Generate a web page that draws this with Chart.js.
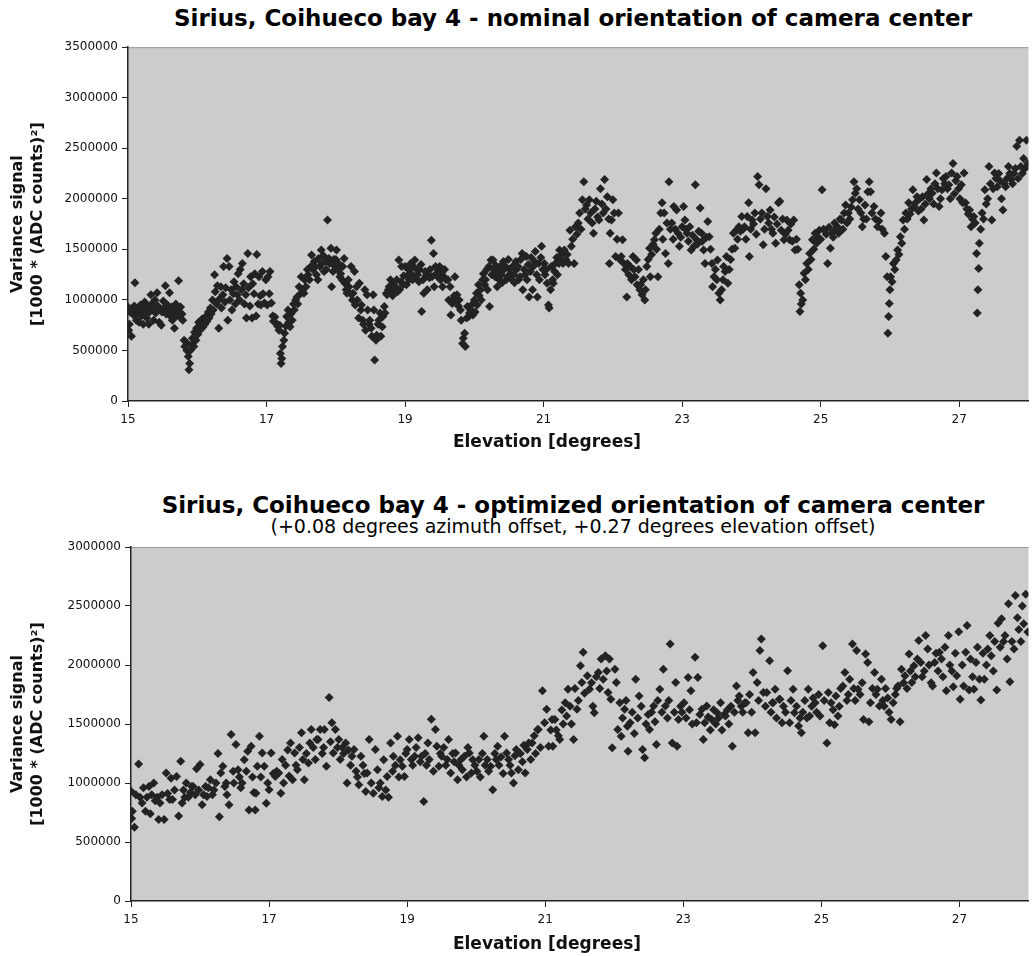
<!DOCTYPE html>
<html>
<head>
<meta charset="utf-8">
<script src="https://cdn.jsdelivr.net/npm/chart.js@4.4.1/dist/chart.umd.min.js"></script>
<style>
  body { margin: 0; background: #fff; font-family: "DejaVu Sans", sans-serif; }
  #page { position: relative; width: 1033px; height: 956px; overflow: hidden; background: #fff; }
  .title { position: absolute; left: 0; width: 1146px; text-align: center; white-space: nowrap; color: #000; }
  .main { font-weight: bold; font-size: 23px; line-height: 28px; }
  .sub { font-size: 19px; line-height: 22px; }
  .xtitle { position: absolute; left: 0; width: 1094px; text-align: center; white-space: nowrap;
            color: #111; font-weight: bold; font-size: 17px; line-height: 20px; }
  canvas { position: absolute; left: 0; }
</style>
</head>
<body>
<div id="page">
  <div class="title main" style="top:4px">Sirius, Coihueco bay 4 - nominal orientation of camera center</div>
  <canvas id="nominal" width="1033" height="424" style="top:36px"></canvas>
  <div class="xtitle" style="top:431px">Elevation [degrees]</div>
  <div class="title main" style="top:491px">Sirius, Coihueco bay 4 - optimized orientation of camera center</div>
  <div class="title sub" style="top:515px">(+0.08 degrees azimuth offset, +0.27 degrees elevation offset)</div>
  <canvas id="optimized" width="1033" height="426" style="top:530px"></canvas>
  <div class="xtitle" style="top:933px">Elevation [degrees]</div>
</div>
<script>
// elevation tick labels, shared by both charts
const xTicks = [15, 17, 19, 21, 23, 25, 27];
const yUnit = 1000; // variance values below are written in thousands

// [elevation, variance / 1000] - nominal orientation
const nominalPoints = [
  [15.00,930],[15.01,700],[15.02,760],[15.03,880],[15.05,640],[15.06,910],[15.08,850],[15.09,940],[15.10,1170],[15.12,800],
  [15.13,900],[15.15,870],[15.16,780],[15.18,950],[15.19,840],[15.21,900],[15.22,760],[15.24,980],[15.25,860],[15.27,820],
  [15.28,930],[15.30,760],[15.31,880],[15.33,1050],[15.34,960],[15.36,900],[15.37,800],[15.39,1000],[15.40,870],[15.42,1070],
  [15.43,940],[15.45,780],[15.46,910],[15.48,750],[15.49,880],[15.51,990],[15.52,920],[15.54,1140],[15.55,860],[15.57,950],
  [15.58,900],[15.60,1070],[15.61,840],[15.63,930],[15.64,800],[15.66,880],[15.67,720],[15.69,960],[15.70,840],[15.72,900],
  [15.73,1190],[15.75,830],[15.76,930],[15.78,860],[15.79,800],
  [15.81,600],[15.82,540],[15.84,580],[15.85,500],[15.87,440],[15.88,310],[15.89,370],[15.90,500],[15.92,560],[15.93,620],
  [15.95,540],[15.96,680],[15.98,600],[15.99,720],[16.01,660],[16.02,780],[16.04,700],[16.05,760],[16.07,810],[16.08,730],
  [16.10,800],[16.11,760],[16.13,840],[16.14,790],[16.16,880],[16.17,820],[16.19,920],[16.20,860],
  [16.22,1000],[16.23,900],[16.25,1250],[16.26,1080],[16.28,960],[16.29,1140],[16.31,720],[16.32,1010],[16.34,1130],[16.35,920],
  [16.37,1050],[16.38,1330],[16.40,980],[16.41,1120],[16.43,1410],[16.44,800],[16.46,1330],[16.47,1000],[16.49,1100],[16.50,900],
  [16.52,1060],[16.53,1180],[16.55,960],[16.56,1130],[16.58,1050],[16.59,1260],[16.61,1000],[16.62,1300],[16.64,1100],[16.65,1360],
  [16.67,1160],[16.68,960],[16.70,1050],[16.71,820],[16.73,1460],[16.74,1120],[16.76,940],[16.77,1230],[16.79,820],[16.80,1160],
  [16.82,1060],[16.83,1260],[16.85,840],[16.86,1450],[16.88,960],[16.89,1230],[16.91,1040],[16.92,950],[16.94,1280],[16.95,1060],
  [16.97,970],[16.99,1200],[17.01,950],[17.02,1230],[17.04,1060],[17.05,1280],[17.07,970],[17.09,840],[17.10,790],[17.12,830],
  [17.14,770],[17.16,740],[17.18,700],[17.19,750],
  [17.20,470],[17.21,370],[17.22,420],[17.23,540],[17.25,600],[17.26,670],[17.28,740],[17.29,835],[17.31,900],[17.32,780],
  [17.34,735],[17.35,860],[17.37,800],[17.39,960],[17.40,900],[17.42,1000],[17.44,1030],[17.45,960],[17.47,1130],[17.49,1060],
  [17.50,1230],[17.52,1100],[17.54,1065],[17.55,1200],[17.57,1130],[17.59,1300],[17.60,1250],[17.62,1200],[17.64,1330],[17.65,1445],
  [17.67,1300],[17.69,1380],[17.70,1330],[17.72,1250],[17.74,1200],[17.75,1410],[17.77,1330],[17.79,1495],[17.80,1360],[17.82,1440],
  [17.83,1280],[17.85,1380],[17.86,1300],[17.88,1790],[17.90,1410],[17.91,1360],[17.93,1510],[17.94,1130],[17.96,1280],[17.97,1400],
  [17.99,1330],
  [18.00,1400],[18.01,1495],[18.03,1300],[18.04,1360],[18.06,1230],[18.07,1260],[18.09,1200],[18.10,1330],[18.12,1410],[18.13,1165],
  [18.15,1100],[18.16,1065],[18.18,1200],[18.19,1130],[18.21,1060],[18.22,1330],[18.24,1000],[18.25,1065],[18.27,1280],[18.28,950],
  [18.30,1130],[18.31,1000],[18.33,820],[18.34,1165],[18.36,900],[18.37,950],[18.39,800],[18.40,760],[18.42,1100],[18.43,700],
  [18.45,1050],[18.46,900],[18.48,760],[18.49,800],[18.51,720],[18.52,640],[18.54,1050],[18.55,900],[18.56,405],[18.58,600],
  [18.59,650],[18.61,760],[18.62,800],[18.64,870],[18.65,640],[18.67,735],[18.68,835],[18.70,935],[18.71,870],[18.73,1065],
  [18.74,1050],[18.76,1100],[18.77,1130],[18.79,1200],[18.80,1080],[18.82,1040],[18.83,1150],[18.85,1100],[18.86,1130],[18.88,1200],
  [18.89,1080],[18.91,1395],[18.92,1100],[18.94,1180],[18.95,1330],[18.97,1150],[18.98,1240],
  [19.00,1330],[19.02,1150],[19.03,1240],[19.05,1300],[19.06,1200],[19.08,1360],[19.09,1260],[19.11,1200],[19.12,1330],[19.14,1395],
  [19.15,1230],[19.17,1300],[19.18,1250],[19.20,1180],[19.21,1300],[19.23,1350],[19.24,885],[19.26,1200],[19.27,1065],[19.29,1280],
  [19.30,1240],[19.32,1100],[19.33,1260],[19.35,1220],[19.36,1300],[19.38,1590],[19.39,1230],[19.41,1460],[19.42,1130],[19.44,1330],
  [19.45,1260],[19.47,1230],[19.48,1290],[19.50,1330],[19.51,1200],[19.53,1270],[19.54,1130],[19.56,1230],[19.57,1300],[19.59,1200],
  [19.62,1200],[19.63,1000],[19.65,1130],[19.66,850],[19.68,965],[19.69,1000],[19.71,1040],[19.72,1230],[19.74,1000],[19.75,1050],
  [19.77,940],[19.78,1000],[19.80,900],[19.81,800],[19.83,570],[19.84,620],[19.86,670],[19.87,540],[19.89,820],[19.90,935],
  [19.92,835],[19.93,870],[19.95,900],[19.96,950],[19.98,850],
  [20.00,1000],[20.01,880],[20.03,1065],[20.04,950],[20.06,1150],[20.07,1040],[20.09,1100],[20.10,1000],[20.12,1200],[20.13,1260],
  [20.15,1150],[20.16,1200],[20.18,1300],[20.19,1100],[20.21,1330],[20.22,935],[20.24,1395],[20.25,1250],[20.27,1395],[20.28,1300],
  [20.30,1230],[20.31,1340],[20.33,1130],[20.34,1280],[20.36,1200],[20.37,1330],[20.39,1250],[20.40,1170],[20.42,1380],[20.43,1300],
  [20.45,1330],[20.46,1200],[20.48,1230],[20.49,1400],[20.51,1300],[20.52,1260],[20.54,1200],[20.55,1330],[20.57,1250],[20.58,1170],
  [20.60,1380],[20.61,1300],[20.63,1330],[20.64,1200],[20.66,1230],[20.67,1400],[20.69,1460],[20.70,1100],[20.72,1300],[20.73,1250],
  [20.75,1430],[20.76,1200],[20.78,1350],[20.79,1030],[20.81,1280],[20.82,1420],[20.84,1100],[20.85,1330],[20.87,1380],[20.88,1480],
  [20.90,1250],[20.91,1030],[20.93,1360],[20.94,1200],[20.96,1420],[20.97,1530],[20.99,1300],
  [21.01,1360],[21.02,1250],[21.04,1300],[21.05,1165],[21.07,950],[21.08,920],[21.10,1100],[21.11,1330],[21.13,1200],[21.14,1165],
  [21.16,1280],[21.17,1360],[21.19,1420],[21.20,1250],[21.22,1360],[21.23,1495],[21.25,1400],[21.26,1450],[21.28,1360],
  [21.30,1495],[21.32,1400],[21.34,1450],[21.36,1360],[21.38,1690],[21.40,1530],[21.42,1600],[21.44,1360],[21.46,1725],[21.48,1650],
  [21.50,1760],[21.52,1860],[21.54,1700],[21.56,1990],[21.58,2170],[21.60,1900],[21.62,1940],[21.64,1800],[21.66,1990],[21.68,1860],
  [21.70,1760],[21.72,1660],[21.74,1900],[21.76,1975],[21.78,1820],[21.80,1790],[21.82,2100],[21.84,1950],[21.86,1860],[21.88,2190],
  [21.90,1900],[21.92,2020],[21.94,1800],[21.95,1360],[21.96,1660],[21.98,1790],[22.00,1990],[22.02,1860],[22.04,1430],[22.06,1600],
  [22.08,1860],[22.10,1400],[22.12,1430],[22.14,1595],[22.16,1360],[22.18,1300],
  [22.20,1030],[22.21,1360],[22.23,1250],[22.25,1330],[22.27,1200],[22.29,1430],[22.30,1300],[22.32,1230],[22.34,1395],[22.35,1150],
  [22.37,1300],[22.39,1100],[22.40,1150],[22.42,1050],[22.44,1200],[22.46,1000],[22.47,1100],[22.49,1330],[22.51,1400],[22.53,1510],
  [22.54,1230],[22.56,1450],[22.58,1550],[22.60,1595],[22.62,1660],[22.63,1500],[22.65,1230],[22.67,1700],[22.69,1860],[22.71,1960],
  [22.72,1600],[22.74,1860],[22.76,1460],[22.78,1760],[22.80,1360],[22.81,2170],[22.83,1700],[22.85,1760],[22.87,1600],[22.88,1925],
  [22.90,1700],[22.92,1890],[22.94,1660],[22.96,1530],[22.98,1620],[23.00,1725],
  [23.02,1925],[23.04,1790],[23.05,1700],[23.07,1660],[23.09,1580],[23.11,1725],[23.13,1495],[23.15,1640],[23.17,1530],[23.19,2140],
  [23.21,1595],[23.22,1550],[23.24,1680],[23.26,1910],[23.28,1660],[23.29,1580],[23.31,1495],[23.33,1360],[23.35,1620],[23.37,1775],
  [23.39,1625],[23.41,1500],[23.43,1360],[23.44,1130],[23.46,1230],[23.48,1300],[23.50,1200],[23.51,1395],[23.53,1065],[23.55,1000],
  [23.57,1100],[23.59,1200],[23.60,1330],[23.62,1280],[23.64,1430],[23.66,1165],[23.68,1300],[23.70,1400],[23.72,1500],[23.74,1660],
  [23.76,1510],[23.78,1690],[23.80,1600],[23.82,1725],[23.84,1680],[23.86,1825],[23.88,1700],
  [23.90,1725],[23.92,1600],[23.94,1825],[23.96,1960],[23.97,1430],[23.99,1700],[24.01,1790],[24.03,1750],[24.05,1860],[24.07,1650],
  [24.09,2220],[24.11,2140],[24.13,1800],[24.15,1860],[24.17,1545],[24.19,1700],[24.21,2100],[24.23,1825],[24.25,1760],[24.27,1890],
  [24.29,1700],[24.31,1660],[24.33,1820],[24.35,1560],[24.37,1750],[24.39,1960],[24.41,1975],[24.43,1690],[24.45,1800],[24.47,1595],
  [24.49,1650],[24.51,1790],[24.53,1690],[24.55,1595],[24.57,1750],[24.59,1580],[24.61,1790],[24.63,1495],[24.65,1600],[24.67,1500],
  [24.69,1150],[24.70,885],[24.71,1065],[24.72,960],[24.74,1000],[24.76,1265],[24.78,1200],[24.80,1360],[24.82,1300],[24.84,1460],
  [24.86,1400],[24.88,1595],[24.90,1500],[24.92,1660],[24.94,1560],[24.96,1620],[24.98,1690],
  [25.00,1600],[25.02,2090],[25.04,1700],[25.06,1690],[25.08,1650],[25.10,1360],[25.12,1720],[25.14,1510],[25.16,1660],[25.18,1620],
  [25.20,1760],[25.22,1700],[25.24,1725],[25.26,1660],[25.28,1800],[25.30,1790],[25.32,1700],[25.34,1860],[25.36,1940],[25.38,1760],
  [25.40,1860],[25.42,1800],[25.44,1920],[25.46,1990],[25.48,2170],[25.50,2055],[25.52,2100],[25.54,1900],[25.56,1990],[25.58,1860],
  [25.60,1725],[25.62,1800],[25.64,1940],[25.66,1800],[25.68,2070],
  [25.70,2170],[25.72,2070],[25.74,1860],[25.77,1925],[25.79,1800],[25.82,1725],[25.84,1780],[25.87,1860],[25.89,1700],[25.92,1660],
  [25.94,1430],[25.96,1230],[25.97,670],[25.98,835],[25.99,965],[26.00,1100],[26.01,1230],[26.03,1180],[26.05,1360],[26.07,1300],
  [26.09,1395],[26.11,1495],[26.13,1450],[26.15,1625],[26.17,1560],[26.19,1790],[26.21,1700],[26.23,1860],[26.25,1800],[26.27,1960],
  [26.29,1850],[26.31,1900],[26.33,2090],[26.35,1925],[26.37,1960],[26.39,2020],[26.41,1880],[26.43,2000],[26.45,1900],[26.47,2020],
  [26.49,1790],[26.51,1950],[26.53,2190],[26.55,2050],[26.57,2000],[26.59,2100],[26.61,2055],[26.63,1950],[26.65,2150],[26.67,2255],
  [26.69,2100],[26.71,1925],[26.73,2000],[26.75,2090],[26.77,2200],[26.79,2150],[26.81,2220],[26.83,2100],[26.85,2140],[26.87,2000],
  [26.89,2255],[26.91,2350],[26.93,2050],[26.95,2180],
  [26.97,2220],[26.99,2100],[27.01,2000],[27.03,2140],[27.05,1960],[27.07,2255],[27.09,1960],[27.11,1900],[27.13,1850],[27.15,1890],
  [27.17,1725],[27.19,1800],[27.21,1825],[27.23,1760],[27.25,1460],[27.26,870],[27.27,1100],[27.28,1310],[27.29,1560],[27.31,1700],
  [27.33,1860],[27.35,1800],[27.37,2090],[27.39,1950],[27.41,2000],[27.43,2320],[27.45,2150],[27.47,1790],[27.49,2100],[27.51,2255],
  [27.53,2200],[27.55,2120],[27.57,2250],[27.59,2180],[27.61,2000],[27.63,1890],[27.65,2150],[27.67,2120],[27.69,2200],[27.71,2320],
  [27.73,2250],[27.75,2190],[27.77,2150],[27.79,2250],[27.81,2300],[27.83,2520],[27.85,2200],[27.87,2580],[27.89,2320],[27.91,2250],
  [27.93,2400],[27.95,2300],[27.97,2580],[27.99,2350]
];

// [elevation, variance / 1000] - optimized orientation
const optimizedPoints = [
  [15.00,930],[15.01,700],[15.02,760],[15.05,625],[15.07,900],[15.11,1160],[15.13,880],[15.16,830],[15.18,960],
  [15.21,760],[15.23,880],[15.26,970],[15.28,740],[15.30,900],[15.33,1000],[15.35,850],[15.38,880],
  [15.40,690],[15.42,830],[15.45,900],[15.48,690],[15.51,1085],[15.53,910],[15.56,860],[15.58,1040],
  [15.60,860],[15.63,940],[15.66,1055],[15.69,720],[15.72,1184],[15.74,830],[15.76,940],[15.78,880],
  [15.80,1000],[15.83,880],[15.86,920],[15.88,970],[15.90,970],[15.93,900],[15.95,1120],[15.98,940],
  [16.00,1156],[16.03,815],[16.05,900],[16.08,970],[16.10,885],[16.12,960],[16.15,1028],[16.18,900],
  [16.20,940],[16.23,1000],[16.26,1250],[16.28,715],[16.30,1085],[16.33,1142],[16.36,971],[16.38,1000],[16.39,900],
  [16.42,815],[16.45,1411],[16.48,1100],[16.49,1000],[16.52,1326],[16.55,1113],[16.57,1050],[16.59,960],
  [16.61,1000],[16.64,1198],[16.67,1100],[16.69,1269],[16.71,772],[16.74,1312],[16.76,1050],[16.78,920],
  [16.80,772],[16.81,914],[16.83,1142],[16.86,1397],[16.88,1050],[16.90,1255],[16.93,1142],[16.96,829],[16.98,1000],
  [17.00,943],[17.03,1255],[17.06,1080],[17.09,1056],[17.11,1100],[17.14,1085],[17.17,914],[17.19,1200],
  [17.21,1000],[17.24,1150],[17.27,1280],[17.29,1060],[17.31,1340],[17.34,1028],[17.37,1255],[17.39,1150],
  [17.41,1113],[17.44,1300],[17.47,1425],[17.49,1200],[17.51,1028],[17.54,1250],[17.57,1170],[17.59,1340],
  [17.61,1454],[17.64,1300],[17.67,1200],[17.69,1369],[17.71,1369],[17.74,1454],[17.77,1250],[17.79,1300],
  [17.80,1454],[17.83,1142],[17.87,1724],[17.89,1350],[17.91,1511],[17.93,1255],[17.96,1454],[17.99,1300],
  [18.01,1369],[18.03,1200],[18.06,1300],[18.08,1250],[18.11,1340],[18.13,1000],[18.15,1280],[18.18,1150],
  [18.20,1227],[18.23,1283],[18.26,1100],[18.28,1050],[18.30,985],[18.33,1227],[18.36,1150],[18.38,1080],
  [18.40,929],[18.42,1085],[18.45,1369],[18.48,1000],[18.51,914],[18.54,1283],[18.57,1113],[18.59,960],
  [18.61,1000],[18.64,886],[18.66,1198],[18.69,940],[18.71,1056],[18.73,880],[18.76,1340],[18.79,1100],
  [18.80,1227],[18.83,1150],[18.86,1397],[18.88,1050],[18.90,1198],[18.93,1142],[18.96,1056],[18.98,1250],
  [19.00,1283],[19.03,1369],[19.06,1200],[19.08,1150],[19.11,1227],[19.13,1300],[19.16,1383],[19.19,1180],
  [19.21,1227],[19.24,843],[19.26,1250],[19.28,1150],[19.30,1340],[19.32,1200],[19.35,1540],[19.38,1100],
  [19.41,1454],[19.43,1312],[19.46,1142],[19.48,1250],[19.50,1227],[19.53,1300],[19.56,1150],[19.58,1200],
  [19.60,1369],[19.63,1085],[19.66,1250],[19.68,1180],[19.70,1255],[19.73,1028],[19.75,1150],[19.78,1200],
  [19.80,1113],[19.83,1227],[19.86,1050],[19.88,1300],[19.90,1255],[19.93,1085],[19.95,1198],[19.98,1150],
  [20.01,1100],[20.04,1200],[20.06,1050],[20.09,1250],[20.11,1397],[20.13,1150],[20.16,1200],[20.18,1100],
  [20.21,1142],[20.24,943],[20.27,1250],[20.29,1200],[20.31,1312],[20.33,1150],[20.36,1220],[20.39,1080],
  [20.41,1397],[20.44,1255],[20.47,1200],[20.49,1150],[20.51,1085],[20.54,1000],[20.56,1230],[20.58,1283],
  [20.61,1113],[20.64,1250],[20.67,1180],[20.69,1320],[20.71,1085],[20.74,1283],[20.76,1340],[20.79,1200],
  [20.81,1340],[20.84,1400],[20.86,1250],[20.89,1454],[20.90,1454],[20.93,1300],[20.96,1781],[20.99,1511],
  [21.02,1624],[21.05,1312],[21.08,1450],[21.10,1539],[21.11,1312],[21.14,1539],[21.16,1450],[21.19,1400],
  [21.21,1369],[21.24,1618],[21.26,1500],[21.29,1681],[21.31,1568],[21.33,1795],[21.36,1650],[21.38,1500],
  [21.41,1369],[21.43,1801],[21.46,1624],[21.48,1700],[21.51,1994],[21.53,1852],[21.55,2107],[21.57,1760],
  [21.61,1908],[21.64,1795],[21.67,1850],[21.69,1650],[21.71,1596],[21.74,1900],[21.77,1937],[21.79,1800],
  [21.81,2050],[21.84,1880],[21.87,2079],[21.89,1950],[21.91,1766],[21.93,2050],[21.95,1710],[21.97,1298],
  [22.01,1965],[22.03,1852],[22.05,1454],[22.08,1681],[22.10,1397],[22.12,1550],[22.15,1624],[22.17,1700],[22.19,1480],
  [22.20,1269],[22.23,1511],[22.26,1600],[22.29,1420],[22.31,1880],[22.34,1550],[22.36,1738],[22.39,1650],
  [22.41,1283],[22.44,1213],[22.46,1500],[22.49,1580],[22.51,1454],[22.54,1600],[22.57,1653],[22.59,1520],
  [22.61,1326],[22.63,1700],[22.66,1795],[22.69,1600],[22.71,1965],[22.74,1653],[22.77,1550],[22.79,1700],
  [22.81,2178],[22.84,1340],[22.87,1600],[22.89,1852],[22.91,1312],[22.93,1539],[22.96,1650],[22.98,1600],
  [23.01,1681],[23.04,1550],[23.07,1894],[23.09,1620],[23.11,1781],[23.13,1500],[23.17,2065],[23.19,1511],
  [23.21,1894],[23.24,1580],[23.27,1624],[23.29,1369],[23.31,1511],[23.34,1653],[23.36,1560],[23.39,1450],
  [23.41,1539],[23.44,1620],[23.47,1500],[23.49,1596],[23.51,1550],[23.54,1680],[23.56,1450],[23.59,1580],
  [23.61,1568],[23.64,1620],[23.66,1500],[23.69,1650],[23.71,1312],[23.74,1600],[23.77,1823],[23.79,1700],
  [23.81,1738],[23.84,1650],[23.86,1600],[23.89,1681],[23.91,1681],[23.94,1425],[23.96,1750],[23.99,1600],
  [24.01,1937],[24.04,1425],[24.07,1852],[24.09,1700],[24.11,2122],[24.13,2221],[24.16,1766],[24.19,1650],
  [24.21,1766],[24.25,2036],[24.27,1600],[24.29,1681],[24.30,1681],[24.33,1795],[24.35,1550],[24.39,1710],
  [24.40,1710],[24.43,1511],[24.45,1650],[24.48,1600],[24.51,1951],[24.54,1511],[24.56,1700],[24.59,1795],
  [24.61,1596],[24.64,1650],[24.67,1482],[24.69,1550],[24.71,1425],[24.73,1600],[24.76,1700],[24.79,1550],
  [24.81,1795],[24.83,1568],[24.86,1650],[24.88,1720],[24.91,1681],[24.93,1600],[24.96,1750],[24.98,1568],
  [25.02,2164],[25.04,1700],[25.08,1340],[25.10,1766],[25.12,1511],[25.14,1681],[25.17,1620],[25.19,1494],
  [25.21,1738],[25.24,1568],[25.26,1650],[25.28,1800],[25.31,1823],[25.34,1937],[25.37,1700],[25.39,1750],
  [25.41,1880],[25.45,2178],[25.47,1800],[25.49,1700],[25.51,2122],[25.53,1795],[25.56,1750],[25.59,1850],
  [25.61,1539],[25.64,2093],[25.67,2022],[25.69,1520],[25.71,1681],[25.74,1800],[25.77,1937],[25.79,1750],
  [25.81,1795],[25.84,1653],[25.87,1880],[25.89,1700],[25.91,1650],[25.93,1800],[25.96,1720],[25.98,1600],
  [26.01,1539],[26.04,1681],[26.07,1750],[26.09,1800],[26.11,1823],[26.14,1520],[26.16,1965],[26.19,1850],
  [26.21,1908],[26.24,1800],[26.27,2093],[26.29,1950],[26.31,1852],[26.34,1994],[26.36,1900],[26.39,2050],
  [26.41,2207],[26.44,2022],[26.46,1900],[26.49,1950],[26.51,2249],[26.54,2136],[26.56,2000],[26.59,1850],
  [26.61,1823],[26.64,2022],[26.66,2100],[26.69,1950],[26.71,2107],[26.74,2050],[26.76,1900],[26.79,2150],
  [26.81,1781],[26.84,2249],[26.86,2000],[26.89,1950],[26.91,1816],[26.94,2100],[26.96,1908],[26.99,2282],
  [27.01,1710],[27.04,2000],[27.06,1823],[27.09,2107],[27.11,2335],[27.14,1788],[27.16,2050],[27.19,1900],
  [27.21,1795],[27.24,2022],[27.26,2150],[27.29,1880],[27.31,1703],[27.34,2100],[27.36,1880],[27.39,2000],
  [27.41,2136],[27.44,2250],[27.46,2079],[27.49,1950],[27.51,2200],[27.54,1788],[27.56,2353],[27.59,2150],
  [27.61,2391],[27.64,2200],[27.66,2250],[27.69,2050],[27.71,2519],[27.73,1858],[27.76,2200],[27.79,2136],
  [27.81,2590],[27.84,2400],[27.86,2300],[27.89,2200],[27.91,2500],[27.93,2350],[27.96,2600],[27.99,2280]
];

const plotBackground = {
  id: 'plotBackground',
  beforeDraw(chart) {
    const { ctx, chartArea: a } = chart;
    ctx.save();
    ctx.fillStyle = '#cccccc';
    ctx.fillRect(a.left, a.top, a.right - a.left, a.bottom - a.top);
    ctx.strokeStyle = '#9a9a9a';
    ctx.lineWidth = 1;
    ctx.beginPath();
    ctx.moveTo(a.left, a.top + 0.5);
    ctx.lineTo(a.right, a.top + 0.5);
    ctx.stroke();
    ctx.restore();
  }
};

function makeChart(id, points, yMax, axisWidth, xAxisHeight, topPad) {
  const ctx = document.getElementById(id).getContext('2d');
  return new Chart(ctx, {
    type: 'scatter',
    data: {
      datasets: [{
        data: points.map(p => ({ x: p[0], y: p[1] * yUnit })),
        pointStyle: 'rectRot',
        pointRadius: 4.5,
        backgroundColor: '#232323',
        borderWidth: 0
      }]
    },
    options: {
      responsive: false,
      animation: false,
      devicePixelRatio: 1,
      layout: { padding: { top: topPad, right: 0, bottom: 0, left: 0 } },
      plugins: { legend: { display: false }, tooltip: { enabled: false } },
      scales: {
        x: {
          type: 'linear',
          min: 15,
          max: 28,
          afterBuildTicks: scale => { scale.ticks = xTicks.map(v => ({ value: v })); },
          afterFit: scale => { scale.height = xAxisHeight; },
          border: { display: true, color: '#222', width: 1.5 },
          grid: { drawOnChartArea: false, drawTicks: true, tickLength: 6, color: '#222' },
          ticks: { color: '#111', font: { family: 'DejaVu Sans', size: 12 }, padding: 6, maxRotation: 0 }
        },
        y: {
          min: 0,
          max: yMax,
          afterFit: scale => { scale.width = axisWidth; },
          border: { display: true, color: '#222', width: 1.5 },
          grid: { drawOnChartArea: false, drawTicks: true, tickLength: 6, color: '#222' },
          ticks: { stepSize: 500000, color: '#111', font: { family: 'DejaVu Sans', size: 12 }, padding: 4,
                   callback: v => String(v) },
          title: {
            display: true,
            text: ['Variance signal', '[1000 * (ADC counts)\u00b2]'],
            color: '#111',
            font: { family: 'DejaVu Sans', size: 16, weight: 'bold', lineHeight: 1.25 },
            padding: { top: 8, bottom: 0 }
          }
        }
      }
    },
    plugins: [plotBackground]
  });
}

makeChart('nominal', nominalPoints, 3500000, 128, 59, 6);
makeChart('optimized', optimizedPoints, 3000000, 131, 55, 17);
</script>
</body>
</html>
